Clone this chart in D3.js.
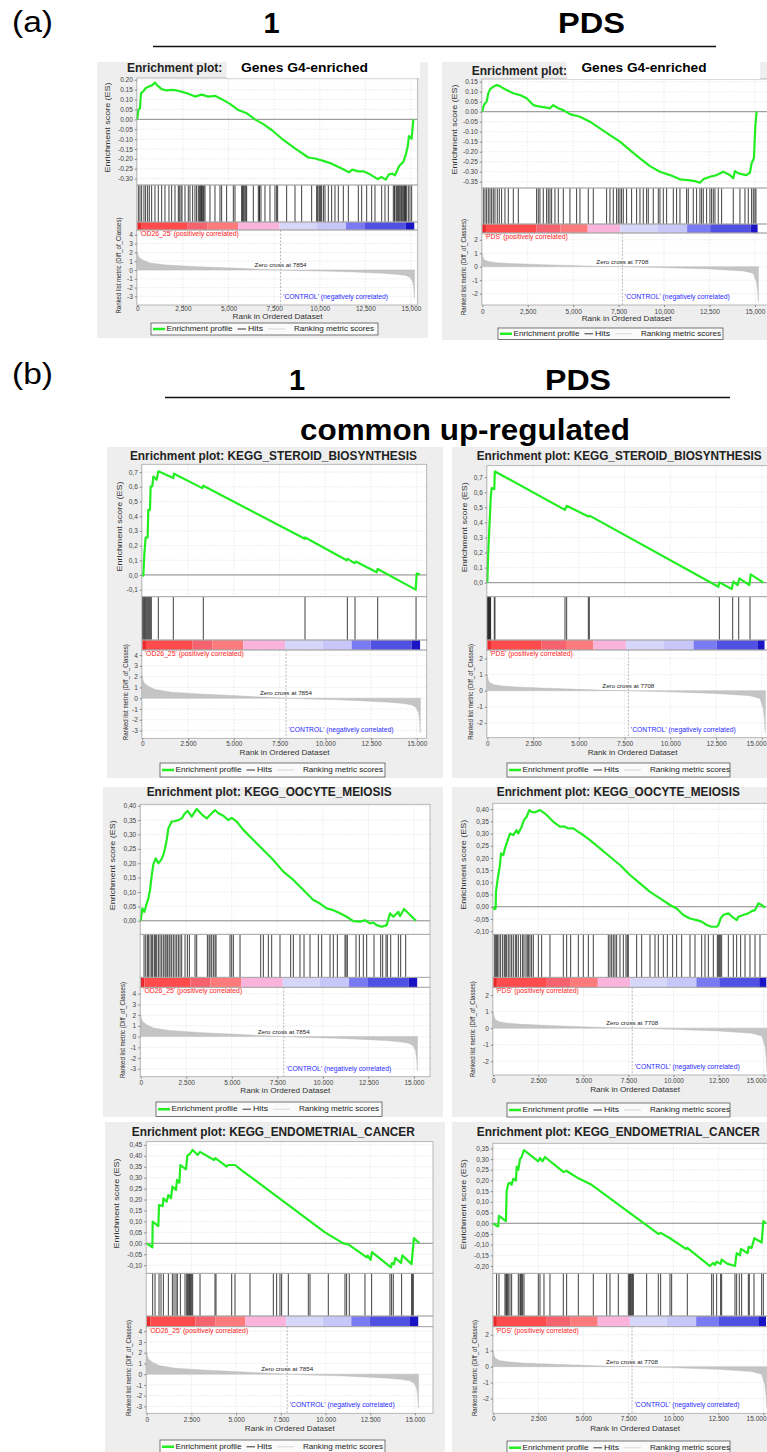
<!DOCTYPE html>
<html><head><meta charset="utf-8">
<script src="https://cdn.jsdelivr.net/npm/d3@7"></script>
<style>body{margin:0;background:#fff}svg{display:block}</style>
</head><body><svg id="c" width="767" height="1452"></svg>
<script>
// ---------------- DATA ----------------
const xTicks = [0,2500,5000,7500,10000,12500,15000];
const rankTicks_OD26 = [-3,-2,-1,0,1,2,3,4];
const rankTicks_PDS = [-2,-1,0,1,2];
const esTicks_A1 = [-0.30,-0.25,-0.20,-0.15,-0.10,-0.05,0,0.05,0.10,0.15,0.20];
const esTicks_A2 = [-0.35,-0.30,-0.25,-0.20,-0.15,-0.10,-0.05,0,0.05,0.10,0.15];
const esTicks_B1 = [-0.1,0,0.1,0.2,0.3,0.4,0.5,0.6,0.7];
const esTicks_B2 = [0,0.1,0.2,0.3,0.4,0.5,0.6,0.7];
const esTicks_B3 = [0,0.05,0.10,0.15,0.20,0.25,0.30,0.35,0.40];
const esTicks_B4 = [-0.10,-0.05,0,0.05,0.10,0.15,0.20,0.25,0.30,0.35,0.40];
const esTicks_B5 = [-0.10,-0.05,0,0.05,0.10,0.15,0.20,0.25,0.30,0.35,0.40,0.45];
const esTicks_B6 = [-0.20,-0.15,-0.10,-0.05,0,0.05,0.10,0.15,0.20,0.25,0.30,0.35];

const zeroCross_OD26 = 7854;
const zeroCross_PDS = 7708;

const metric_OD26 = [[0,2.1],[30,1.7],[110,1.4],[330,1.1],[700,0.8],[1600,0.56],[3400,0.37],[5250,0.22],[6600,0.1],[7854,0],[9000,-0.08],[10700,-0.15],[12200,-0.26],[13450,-0.37],[14300,-0.5],[14720,-0.62],[14950,-0.85],[15090,-1.3],[15150,-2.0],[15190,-3.2],[15200,0]];
const metric_PDS = [[0,1.0],[30,0.75],[110,0.52],[330,0.39],[800,0.3],[1600,0.23],[3400,0.15],[6150,0.04],[7708,0],[9800,-0.06],[12500,-0.17],[14350,-0.31],[14900,-0.48],[15080,-1.1],[15150,-1.8],[15190,-2.6],[15200,0]];

const heat_OD26 = [0,200,2730,3830,5520,7800,9840,11440,12480,14720,15180];
const heat_PDS = [0,200,2970,4300,5800,7590,9630,11270,12540,14760,15150];

const es_A1 = [[0,0],[55,0.047],[146,0.056],[201,0.132],[329,0.141],[457,0.158],[640,0.166],[822,0.173],[968,0.186],[1078,0.173],[1334,0.153],[1608,0.146],[1882,0.149],[2156,0.146],[2466,0.139],[2795,0.129],[3161,0.115],[3526,0.125],[3892,0.115],[4257,0.119],[4622,0.102],[5079,0.078],[5536,0.047],[5993,0.031],[6449,0.0],[6906,-0.024],[7363,-0.054],[7911,-0.097],[8642,-0.147],[9373,-0.193],[9738,-0.198],[10195,-0.21],[10651,-0.224],[11200,-0.249],[11601,-0.268],[11784,-0.254],[12113,-0.263],[12387,-0.263],[12752,-0.278],[13172,-0.302],[13392,-0.292],[13611,-0.305],[13794,-0.278],[13977,-0.275],[14123,-0.283],[14342,-0.237],[14579,-0.215],[14707,-0.181],[14817,-0.139],[14890,-0.085],[15036,-0.098],[15128,0]];
const hits_A1 = [55,146,238,365,457,566,658,786,968,1151,1334,1516,1736,1882,2065,2247,2300,2393,2450,2613,2795,2887,3033,3161,3250,3344,3400,3450,3490,3520,3563,3617,3650,3709,3983,4257,4531,4622,4896,5262,5353,5719,5773,5800,5846,5901,5950,5993,6358,6632,6687,6700,6778,6997,7271,7545,7637,7692,8185,8642,9007,9555,9829,9884,9957,10000,10050,10103,10200,10286,10469,10651,10834,11017,11291,11565,12113,12296,12570,12844,13027,13392,13575,13757,14031,14100,14123,14214,14250,14305,14350,14397,14450,14488,14550,14579,14650,14671,14700,14762,14853,14945,15036];

const es_A2 = [[0,0],[55,0.025],[147,0.042],[238,0.05],[330,0.092],[422,0.112],[605,0.125],[789,0.133],[972,0.128],[1155,0.117],[1339,0.108],[1706,0.092],[2072,0.083],[2439,0.067],[2806,0.033],[3173,0.025],[3540,0.02],[3723,0.017],[3906,0.033],[4182,0.017],[4457,0.008],[4823,-0.012],[5374,-0.025],[5924,-0.05],[6474,-0.083],[7024,-0.117],[7574,-0.15],[8125,-0.192],[8675,-0.233],[9225,-0.272],[9775,-0.3],[10325,-0.317],[10876,-0.338],[11334,-0.342],[11701,-0.347],[11976,-0.355],[12160,-0.338],[12526,-0.325],[12893,-0.317],[13260,-0.3],[13627,-0.317],[13810,-0.333],[13902,-0.297],[14085,-0.308],[14269,-0.312],[14544,-0.317],[14727,-0.305],[14819,-0.258],[14947,-0.233],[15021,-0.075],[15094,0]];
const hits_A2 = [55,147,238,330,422,514,605,697,825,935,1064,1247,1431,1706,1981,2989,3081,3173,3356,3540,3631,3723,3815,3998,4182,4457,4823,5190,5374,5832,6107,6841,7024,7208,7391,7483,7574,7666,7758,7941,8216,8492,8675,8858,9042,9133,9408,9684,9775,9959,10142,10509,10692,10876,11243,11334,11609,11792,11976,12068,12160,12343,12526,12618,12710,12802,12985,13168,13810,14177,14452,14635,14819,14911,15002,15057];

const es_B1 = [[0,0],[55,-0.005],[109,0.136],[182,0.255],[292,0.255],[328,0.443],[419,0.443],[456,0.602],[547,0.602],[601,0.67],[783,0.648],[875,0.705],[1694,0.659],[1731,0.689],[3280,0.591],[3334,0.607],[8880,0.246],[8900,0.255],[11169,0.1],[11224,0.109],[11588,0.08],[11661,0.091],[12809,0.018],[12863,0.041],[14940,-0.1],[14995,0.009],[15177,0.005]];
const hits_B1 = [18,73,128,164,219,273,328,383,437,492,875,1694,3334,8891,11205,11624,12863,14959];

const es_B2 = [[0,0],[36,0.151],[73,0.262],[146,0.45],[182,0.55],[237,0.627],[383,0.621],[401,0.705],[419,0.738],[4245,0.483],[4336,0.51],[5521,0.439],[5612,0.443],[12626,-0.027],[12681,0.002],[13355,-0.042],[13446,0.007],[13683,-0.016],[13774,0.029],[14321,-0.016],[14394,0.055],[15086,0]];
const hits_B2 = [18,36,55,73,91,109,128,146,164,182,383,419,4245,4336,5521,5575,12681,13410,13738,14357];

const es_B3 = [[0,0],[92,0.043],[201,0.031],[329,0.06],[421,0.078],[512,0.107],[604,0.157],[695,0.196],[824,0.217],[970,0.2],[1116,0.211],[1244,0.229],[1336,0.252],[1427,0.281],[1519,0.321],[1702,0.345],[1885,0.347],[2068,0.35],[2251,0.356],[2434,0.374],[2580,0.382],[2800,0.362],[3074,0.389],[3349,0.37],[3623,0.356],[3806,0.368],[4081,0.385],[4264,0.374],[4538,0.365],[4813,0.35],[4996,0.358],[5270,0.345],[5636,0.316],[6185,0.281],[6734,0.246],[7283,0.211],[7832,0.171],[8381,0.142],[8930,0.107],[9479,0.072],[9845,0.06],[10211,0.043],[10577,0.037],[10943,0.026],[11309,0.014],[11675,-0.001],[12041,-0.003],[12316,0.002],[12590,-0.009],[12773,-0.006],[12956,-0.015],[13231,-0.021],[13505,-0.015],[13688,0.026],[13871,0.014],[14146,0.031],[14237,0.016],[14457,0.041],[14695,0.026],[15116,0]];
const hits_B3 = [183,275,366,421,512,604,659,750,805,878,970,1061,1153,1244,1336,1391,1464,1556,1610,1702,1793,1885,1976,2068,2159,2251,2434,2562,2672,2983,3074,3660,3752,3806,3898,3989,4081,4136,4904,4996,5087,5453,6588,6734,7009,7192,7649,8235,8381,8747,8967,9296,9754,9937,10394,10577,10797,11218,11273,11346,11822,12005,12224,12407,12810,13176,13286,13469,13542,13725,14146,14274,14549];

const es_B4 = [[0,0],[56,-0.01],[130,-0.007],[148,0.061],[222,0.102],[278,0.13],[370,0.171],[426,0.219],[555,0.212],[648,0.239],[833,0.28],[925,0.3],[1110,0.294],[1295,0.314],[1388,0.3],[1573,0.328],[1702,0.355],[1850,0.369],[1998,0.396],[2128,0.389],[2313,0.387],[2590,0.396],[2775,0.387],[2960,0.376],[3330,0.348],[3700,0.328],[3978,0.328],[4163,0.321],[4440,0.321],[4718,0.307],[4995,0.294],[5365,0.273],[5920,0.239],[6475,0.205],[7030,0.171],[7585,0.13],[8140,0.096],[8695,0.061],[9250,0.034],[9805,0.007],[10175,-0.007],[10545,-0.034],[10915,-0.048],[11285,-0.055],[11563,-0.061],[11840,-0.075],[12118,-0.082],[12395,-0.082],[12488,-0.075],[12617,-0.048],[12765,-0.034],[13043,-0.027],[13320,-0.045],[13505,-0.055],[13598,-0.041],[13875,-0.034],[14153,-0.027],[14338,-0.018],[14523,-0.014],[14708,0.014],[14893,0.007],[15078,-0.004]];
const hits_B4 = [56,130,185,241,315,407,518,611,666,740,833,925,1018,1110,1221,1295,1388,1517,1628,1702,1813,1887,1961,2035,2128,2220,2498,2683,3145,3885,4070,4292,4718,4995,5273,5550,6383,6475,6568,6660,6753,6845,7030,7215,7363,7437,7493,7955,8233,8695,8973,9158,9435,9657,9953,10175,10453,10915,11193,11563,11748,11933,12210,12432,12488,12543,12599,12673,13043,13320,13505,13727,13968,14245,14523,14800];

const es_B5 = [[0,0],[317,-0.018],[335,0.099],[652,0.079],[689,0.175],[894,0.17],[932,0.206],[1118,0.19],[1211,0.221],[1360,0.206],[1435,0.259],[1639,0.244],[1695,0.29],[1826,0.277],[1882,0.358],[2198,0.338],[2273,0.4],[2422,0.41],[2571,0.427],[2850,0.404],[2981,0.418],[3763,0.381],[3838,0.389],[4471,0.351],[4564,0.358],[4937,0.358],[5403,0.328],[5868,0.3],[9967,0.05],[10992,0],[11271,-0.005],[12110,-0.053],[12296,-0.064],[12352,-0.056],[12519,-0.075],[12594,-0.04],[13656,-0.11],[13712,-0.09],[13824,-0.095],[13898,-0.066],[14215,-0.09],[14289,-0.055],[14811,-0.095],[14867,-0.04],[14941,0.024],[15239,0]];
const hits_B5 = [335,466,689,801,932,1211,1435,1528,1639,1714,1882,2142,2236,2291,2329,2385,2422,2459,2515,2571,2981,3819,3875,4751,4937,5775,7079,7265,7451,7545,7918,9036,9129,10153,11085,11178,11327,12203,12575,13600,13693,13786,14252,14811,14867,14904];

const es_B6 = [[0,0],[185,-0.012],[278,-0.015],[315,0.035],[704,0.01],[741,0.151],[833,0.185],[926,0.19],[1019,0.18],[1111,0.208],[1259,0.2],[1300,0.265],[1389,0.25],[1482,0.3],[1574,0.31],[1704,0.342],[2500,0.29],[2593,0.305],[2741,0.29],[2871,0.31],[3889,0.24],[4074,0.245],[4167,0.24],[4723,0.21],[5463,0.18],[9167,-0.05],[9297,-0.045],[9816,-0.07],[10705,-0.12],[10779,-0.115],[12038,-0.2],[12223,-0.185],[12316,-0.195],[12408,-0.18],[12630,-0.19],[12686,-0.17],[13020,-0.19],[13427,-0.2],[13520,-0.14],[13705,-0.15],[13760,-0.12],[14131,-0.14],[14186,-0.11],[14353,-0.115],[14501,-0.07],[14909,-0.09],[15001,0.01],[15149,0]];
const hits_B6 = [185,315,648,704,741,778,833,926,1019,1389,1482,1519,1574,1630,1704,2500,2593,2815,3148,3889,4074,4723,5556,6297,6482,6945,7501,7556,7593,7630,7686,7741,7778,8519,9167,9297,9816,9908,10779,12131,12223,12408,12630,12686,13427,13520,13668,13797,14168,14223,14482,14909,15001];

// ---------------- STYLE / LAYOUT ----------------
const FONT = '"Liberation Sans", Arial, Helvetica, sans-serif';
const heatColors = ["#e8282c","#ff4b4b","#f5636f","#ff7b7b","#fab4dc","#d6d6fa","#c6c6f8","#7a7af2","#5050e2","#1a14c4"];
const GREEN = "#22ee22";
const locA = d3.formatLocale({decimal:".", thousands:",", grouping:[3], currency:["",""], minus:"-"});
const locB = d3.formatLocale({decimal:",", thousands:".", grouping:[3], currency:["",""], minus:"-"});

const OD26 = {metric:metric_OD26, heat:heat_OD26, zero:zeroCross_OD26, rankTicks:rankTicks_OD26, pos:"'OD26_25' (positively correlated)", posLen:99};
const PDS = {metric:metric_PDS, heat:heat_PDS, zero:zeroCross_PDS, rankTicks:rankTicks_PDS, pos:"'PDS' (positively correlated)", posLen:83};

const panels = [
 {ds:OD26, es:es_A1, hits:hits_A1, esTicks:esTicks_A1, esDomain:[-0.332,0.209], rankDomain:[-3.98,4.55], loc:locA, esFmt:".2f",
  title:"Enrichment plot: ", L:{bg:[97,62,331,276], x0:137.3, x15:411.0, right:417.7, esTop:78, esBot:185, hitsBot:222, heatBot:230, rankBot:305, tickY:309, xTitleY:316.5, legend:[151,323,227,12],
  title:{x:127, y:68.5, anchor:"start"}, cover:[226.7,57,193.3,21], coverText:{x:304.5, y:68.5, len:127}, esLabDx:29, rankLabDx:18.3}},
 {ds:PDS, es:es_A2, hits:hits_A2, esTicks:esTicks_A2, esDomain:[-0.3815,0.1635], rankDomain:[-2.84,2.5], loc:locA, esFmt:".2f",
  title:"Enrichment plot: ", L:{bg:[442,62,325,278], x0:482.3, x15:754.9, right:771, esTop:79, esBot:188, hitsBot:224, heatBot:233, rankBot:305, tickY:311.5, xTitleY:318.5, legend:[498,328,225,11.5],
  title:{x:471.7, y:71.7, anchor:"start"}, cover:[566.7,57,193.3,22], coverText:{x:644, y:68.5, len:125}, esLabDx:27.3, rankLabDx:18.3}},
 {ds:OD26, es:es_B1, hits:hits_B1, esTicks:esTicks_B1, esDomain:[-0.148,0.753], rankDomain:[-3.72,4.47], loc:locB, esFmt:".1f",
  title:"Enrichment plot: KEGG_STEROID_BIOSYNTHESIS", L:{bg:[107,447,336,331], x0:142.3, x15:416.8, right:426.7, esTop:464.3, esBot:596.7, hitsBot:640, heatBot:650, rankBot:738.3, tickY:744, xTitleY:753.3, legend:[160,763,225,14],
  title:{x:273.4, y:456.7, anchor:"middle", len:287}, esLabDx:22.3, rankLabDx:16.6}},
 {ds:PDS, es:es_B2, hits:hits_B2, esTicks:esTicks_B2, esDomain:[-0.093,0.776], rankDomain:[-2.92,2.53], loc:locB, esFmt:".1f",
  title:"Enrichment plot: KEGG_STEROID_BIOSYNTHESIS", L:{bg:[452,447,315,331], x0:487.3, x15:761.8, right:778, esTop:465.7, esBot:596.7, hitsBot:640, heatBot:650, rankBot:737.7, tickY:744, xTitleY:753.3, legend:[507,763,223,14],
  title:{x:619.2, y:456.7, anchor:"middle", len:285}, esLabDx:22.3, rankLabDx:16.6}},
 {ds:OD26, es:es_B3, hits:hits_B3, esTicks:esTicks_B3, esDomain:[-0.047,0.405], rankDomain:[-3.74,4.6], loc:locB, esFmt:".2f",
  title:"Enrichment plot: KEGG_OOCYTE_MEIOSIS", L:{bg:[103,787,340,330], x0:140.7, x15:413.9, right:430, esTop:804.3, esBot:934.3, hitsBot:977.3, heatBot:987.3, rankBot:1076.7, tickY:1082.7, xTitleY:1090.5, legend:[156,1102,226,14.5],
  title:{x:269.2, y:793.3, anchor:"middle", len:245}, esLabDx:27.4, rankLabDx:17.4}},
 {ds:PDS, es:es_B4, hits:hits_B4, esTicks:esTicks_B4, esDomain:[-0.113,0.424], rankDomain:[-2.83,2.47], loc:locB, esFmt:".2f",
  title:"Enrichment plot: KEGG_OOCYTE_MEIOSIS", L:{bg:[452,787,315,330], x0:493.3, x15:763.6, right:777, esTop:803.3, esBot:934.3, hitsBot:977.3, heatBot:987.3, rankBot:1075, tickY:1080.7, xTitleY:1090, legend:[507,1103,223,14],
  title:{x:618.3, y:793.3, anchor:"middle", len:243}, esLabDx:29.3, rankLabDx:20}},
 {ds:OD26, es:es_B5, hits:hits_B5, esTicks:esTicks_B5, esDomain:[-0.137,0.4645], rankDomain:[-3.64,4.42], loc:locB, esFmt:".2f",
  title:"Enrichment plot: KEGG_ENDOMETRIAL_CANCER", L:{bg:[105,1122,340,330], x0:146.7, x15:415.0, right:433, esTop:1141.7, esBot:1273.3, hitsBot:1316, heatBot:1326.7, rankBot:1413.3, tickY:1420, xTitleY:1429.3, legend:[160,1440,225,13.5],
  title:{x:273.3, y:1133.3, anchor:"middle", len:283}, esLabDx:29.4, rankLabDx:17.4}},
 {ds:PDS, es:es_B6, hits:hits_B6, esTicks:esTicks_B6, esDomain:[-0.234,0.374], rankDomain:[-2.92,2.5], loc:locB, esFmt:".2f",
  title:"Enrichment plot: KEGG_ENDOMETRIAL_CANCER", L:{bg:[452,1122,315,330], x0:493.3, x15:763.3, right:777, esTop:1143.3, esBot:1273.3, hitsBot:1316, heatBot:1326.7, rankBot:1413.3, tickY:1419, xTitleY:1429, legend:[507,1441,223,13.5],
  title:{x:618.3, y:1133.3, anchor:"middle", len:283}, esLabDx:29.3, rankLabDx:18.3}}
];

// ---------------- DRAW ----------------
const svg = d3.select("#c");
svg.append("rect").attr("width",767).attr("height",1452).attr("fill","#fff");

function txt(g, s, x, y, o) {
  o = o || {};
  const t = g.append("text").attr("x",x).attr("y",y).text(s)
    .attr("font-family",FONT).attr("font-size",o.size||7).attr("fill",o.fill||"#222")
    .attr("text-anchor",o.anchor||"start").attr("dominant-baseline",o.base||"middle");
  if (o.weight) t.attr("font-weight",o.weight);
  if (o.len) t.attr("textLength",o.len).attr("lengthAdjust","spacingAndGlyphs");
  if (o.rot) t.attr("transform",`rotate(${o.rot},${x},${y})`);
  return t;
}

function drawPanel(p) {
  const L = p.L, ds = p.ds;
  const g = svg.append("g");
  g.append("rect").attr("x",L.bg[0]).attr("y",L.bg[1]).attr("width",L.bg[2]).attr("height",L.bg[3]).attr("fill","#eeeeee");

  const x = d3.scaleLinear().domain([0,15000]).range([L.x0,L.x15]);
  const yE = d3.scaleLinear().domain(p.esDomain).range([L.esBot,L.esTop]);
  const yR = d3.scaleLinear().domain(p.rankDomain).range([L.rankBot,L.heatBot]);
  const left = L.x0 - 0.5, right = L.right;

  const bands = [[L.esTop,L.esBot],[L.esBot,L.hitsBot],[L.hitsBot,L.heatBot],[L.heatBot,L.rankBot]];
  g.selectAll(null).data(bands).join("rect")
    .attr("x",left).attr("y",d=>d[0]).attr("width",right-left).attr("height",d=>d[1]-d[0]).attr("fill","#fff");

  const grid = g.append("g").attr("stroke","#e2e2e2").attr("stroke-width",0.6).attr("stroke-dasharray","2,1");
  grid.selectAll(null).data(p.esTicks).join("line").attr("x1",left).attr("x2",right).attr("y1",d=>yE(d)).attr("y2",d=>yE(d));
  grid.selectAll(null).data(xTicks).join("line").attr("x1",d=>x(d)).attr("x2",d=>x(d)).attr("y1",L.esTop).attr("y2",L.esBot);
  grid.selectAll(null).data(ds.rankTicks).join("line").attr("x1",left).attr("x2",right).attr("y1",d=>yR(d)).attr("y2",d=>yR(d));
  grid.selectAll(null).data(xTicks).join("line").attr("x1",d=>x(d)).attr("x2",d=>x(d)).attr("y1",L.heatBot).attr("y2",L.rankBot);

  g.append("line").attr("x1",left).attr("x2",right).attr("y1",yE(0)).attr("y2",yE(0)).attr("stroke","#8c8c8c").attr("stroke-width",1);

  g.append("path").datum(p.es).attr("fill","none").attr("stroke",GREEN).attr("stroke-width",2.2)
    .attr("stroke-linejoin","round").attr("d",d3.line().x(d=>x(d[0])).y(d=>yE(d[1])));

  g.append("g").selectAll("line").data(p.hits).join("line")
    .attr("x1",d=>x(d)).attr("x2",d=>x(d)).attr("y1",L.esBot).attr("y2",L.hitsBot)
    .attr("stroke","#2a2a2a").attr("stroke-width",0.9);

  const segs = d3.pairs(ds.heat);
  g.append("g").selectAll("rect").data(segs).join("rect")
    .attr("x",d=>x(d[0])).attr("width",d=>x(d[1])-x(d[0])).attr("y",L.hitsBot).attr("height",L.heatBot-L.hitsBot)
    .attr("fill",(d,i)=>heatColors[i]);

  g.append("path").datum(ds.metric).attr("fill","#c4c4c4").attr("stroke","#b8b8b8").attr("stroke-width",0.4)
    .attr("d",d3.area().x(d=>x(d[0])).y0(yR(0)).y1(d=>yR(d[1])));

  const zx = x(ds.zero);
  g.append("line").attr("x1",zx).attr("x2",zx).attr("y1",L.heatBot).attr("y2",L.rankBot)
    .attr("stroke","#999").attr("stroke-width",0.7).attr("stroke-dasharray","2,1.5");
  txt(g,"Zero cross at "+ds.zero, zx, yR(0)-4.5, {size:6.2, anchor:"middle", fill:"#222", len:52});
  txt(g, ds.pos, left+3, L.heatBot+4.5, {size:6.3, fill:"#ff2020", len:ds.posLen});
  txt(g,"'CONTROL' (negatively correlated)", zx+2.5, L.rankBot-7.5, {size:6.3, fill:"#2a2aff", len:105});

  g.selectAll(null).data(bands).join("rect")
    .attr("x",left).attr("y",d=>d[0]).attr("width",right-left).attr("height",d=>d[1]-d[0])
    .attr("fill","none").attr("stroke","#a8a8a8").attr("stroke-width",0.8);

  const styleAxis = (a) => {
    a.select(".domain").remove();
    a.selectAll("line").attr("stroke","#888");
    a.selectAll("text").attr("font-size",6.5).attr("fill","#444").attr("font-family",FONT);
  };
  const aE = g.append("g").attr("transform",`translate(${left},0)`)
    .call(d3.axisLeft(yE).tickValues(p.esTicks).tickFormat(p.loc.format(p.esFmt)).tickSize(2).tickPadding(2));
  styleAxis(aE);
  const aR = g.append("g").attr("transform",`translate(${left},0)`)
    .call(d3.axisLeft(yR).tickValues(ds.rankTicks).tickFormat(p.loc.format("d")).tickSize(2).tickPadding(2));
  styleAxis(aR);
  const aX = g.append("g").attr("transform",`translate(0,${L.rankBot})`)
    .call(d3.axisBottom(x).tickValues(xTicks).tickFormat(p.loc.format(",d")).tickSize(2));
  styleAxis(aX);
  aX.selectAll("text").attr("y",L.tickY-L.rankBot).attr("dy","0.35em");
  // keep tick labels inside the page at the right edge
  aX.selectAll(".tick").each(function(d){
    const t = d3.select(this).select("text");
    const w = t.node().getComputedTextLength();
    const cx = x(d);
    if (cx + w/2 > 766) t.attr("x", 766 - w/2 - cx);
  });

  txt(g,"Enrichment score (ES)", L.x0-L.esLabDx, (L.esTop+L.esBot)/2-4, {size:7, anchor:"middle", fill:"#333", rot:-90, len:90});
  txt(g,"Ranked list metric (Diff_of_Classes)", L.x0-L.rankLabDx, (L.heatBot+L.rankBot)/2-2, {size:7, anchor:"middle", fill:"#333", rot:-90, len:96});
  txt(g,"Rank in Ordered Dataset", (L.x0+right)/2, L.xTitleY, {size:8, anchor:"middle", fill:"#333", len:90});

  if (L.title.len) txt(g,p.title,L.title.x,L.title.y,{size:12, weight:"bold", anchor:L.title.anchor, fill:"#222", len:L.title.len});
  else txt(g,p.title,L.title.x,L.title.y,{size:12, weight:"bold", anchor:L.title.anchor, fill:"#222"});
  if (L.cover) {
    g.append("rect").attr("x",L.cover[0]).attr("y",L.cover[1]).attr("width",L.cover[2]).attr("height",L.cover[3]).attr("fill","#fff");
    txt(g,"Genes G4-enriched",L.coverText.x,L.coverText.y,{size:13, weight:"bold", anchor:"middle", fill:"#000", len:L.coverText.len});
  }

  const [lx,ly,lw,lh] = L.legend, cy = ly+lh/2;
  g.append("rect").attr("x",lx).attr("y",ly).attr("width",lw).attr("height",lh).attr("fill","#fafafa").attr("stroke","#555").attr("stroke-width",0.8);
  g.append("line").attr("x1",lx+2).attr("x2",lx+14).attr("y1",cy).attr("y2",cy).attr("stroke",GREEN).attr("stroke-width",2.5);
  txt(g,"Enrichment profile",lx+15.5,cy,{size:7.5, fill:"#222", len:66});
  g.append("line").attr("x1",lx+86.5).attr("x2",lx+95).attr("y1",cy).attr("y2",cy).attr("stroke","#555").attr("stroke-width",1.2);
  txt(g,"Hits",lx+97,cy,{size:7.5, fill:"#222", len:15});
  g.append("line").attr("x1",lx+117).attr("x2",lx+134).attr("y1",cy).attr("y2",cy).attr("stroke","#dcdcdc").attr("stroke-width",1.2);
  txt(g,"Ranking metric scores",lx+143,cy,{size:7.5, fill:"#222", len:80});
}

panels.forEach(drawPanel);

// ---------------- HEADERS ----------------
const H = svg.append("g");
txt(H,"(a)",12,32,{size:30, base:"alphabetic", fill:"#000", len:41});
txt(H,"1",271.5,33,{size:29, weight:"bold", anchor:"middle", base:"alphabetic", fill:"#000"});
txt(H,"PDS",591.5,33,{size:30, weight:"bold", anchor:"middle", base:"alphabetic", fill:"#000", len:67});
H.append("line").attr("x1",153).attr("x2",716).attr("y1",46.5).attr("y2",46.5).attr("stroke","#111").attr("stroke-width",1.6);

txt(H,"(b)",12,384,{size:30, base:"alphabetic", fill:"#000", len:41});
txt(H,"1",297,390,{size:29, weight:"bold", anchor:"middle", base:"alphabetic", fill:"#000"});
txt(H,"PDS",578,390,{size:30, weight:"bold", anchor:"middle", base:"alphabetic", fill:"#000", len:66});
H.append("line").attr("x1",165).attr("x2",730).attr("y1",397.5).attr("y2",397.5).attr("stroke","#111").attr("stroke-width",1.6);
txt(H,"common up-regulated",465,440,{size:30, weight:"bold", anchor:"middle", base:"alphabetic", fill:"#000", len:330});
</script></body></html>
